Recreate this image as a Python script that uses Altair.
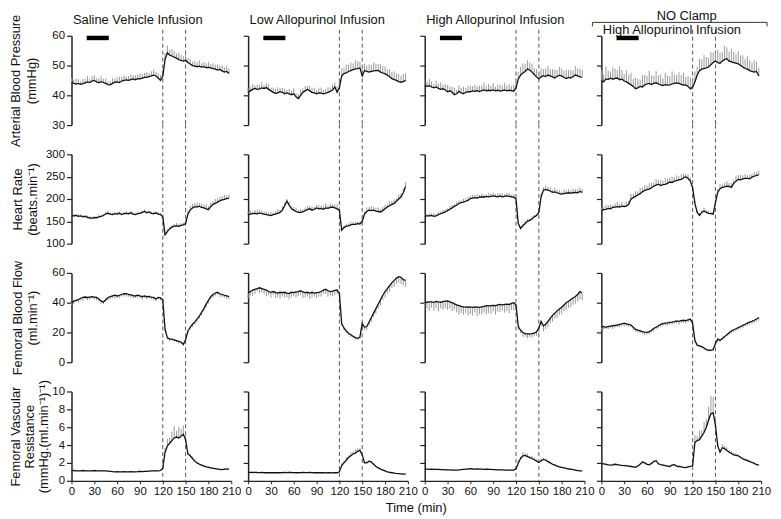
import altair as alt
import pandas as pd

FONT = "Liberation Sans"
TIME = list(range(0, 208, 3))  # sample times, min
TIME_TICKS = [0, 30, 60, 90, 120, 150, 180, 210]
CLAMP_TIMES = [120, 150]
BAR_START = [20]
BAR_END = [49]
GROUP_TITLES = ["Saline Vehicle Infusion", "Low Allopurinol Infusion",
                "High Allopurinol Infusion", "High Allopurinol Infusion"]
SUPER_TITLE = "NO Clamp"
X_TITLE = "Time (min)"

# ---------------- Arterial blood pressure (mmHg) ----------------
ABP_SALINE = [44.3,44.0,43.8,44.0,43.7,43.9,44.2,44.5,44.3,44.8,
              45.0,44.5,44.2,44.6,44.3,44.0,43.6,43.5,44.0,44.4,
              44.5,44.3,44.8,45.0,45.2,45.0,45.3,45.5,45.2,45.6,
              45.5,45.8,46.0,46.0,46.3,46.5,46.8,46.5,45.8,45.0,
              46.5,52.0,54.3,53.5,53.2,52.8,52.5,52.0,51.7,51.5,
              51.8,51.0,50.5,50.0,49.8,49.6,49.8,49.5,49.6,49.3,
              49.4,49.2,49.0,48.8,48.5,48.7,48.2,47.8,48.0,47.3]
ABP_SALINE_ERR = [1.5,1.2,1.8,1.4,1.0,1.6,1.3,1.9,1.2,1.5,
                  1.7,1.1,1.5,1.8,1.3,1.6,1.0,1.4,1.7,1.2,
                  1.5,1.9,1.3,1.6,1.1,1.5,1.8,1.2,1.6,1.4,
                  1.9,1.3,1.5,1.7,1.2,1.6,1.9,1.4,1.5,1.8,
                  2.0,2.2,2.5,1.8,2.3,2.0,1.6,2.2,1.9,1.7,
                  2.1,1.6,1.8,1.3,1.7,1.5,1.9,1.2,1.6,1.4,
                  1.8,1.3,1.7,1.5,1.9,1.2,1.8,1.6,2.0,1.7]
ABP_LOW = [41.0,41.5,42.0,42.3,42.0,42.2,42.5,42.3,42.6,42.0,
           41.5,41.0,40.7,40.8,41.2,41.0,40.5,40.8,40.5,40.2,
           40.5,39.5,38.9,40.0,41.0,41.5,42.0,41.5,41.0,40.8,
           40.5,40.8,40.7,40.5,40.7,41.0,41.3,41.8,42.8,41.0,
           42.5,46.5,47.3,47.5,48.0,48.3,48.6,48.9,49.0,49.2,
           46.5,48.3,48.0,47.8,48.0,48.2,48.3,48.4,47.8,47.5,
           47.2,46.8,46.2,45.6,45.3,45.0,44.6,44.4,44.6,45.0]
ABP_LOW_ERR = [1.5,1.2,1.8,1.0,1.6,1.3,2.0,1.2,1.5,1.8,
               1.1,1.6,1.4,1.9,1.2,1.5,1.7,1.0,1.6,1.3,
               1.8,1.2,1.5,1.9,1.3,1.6,1.1,1.7,1.4,1.8,
               1.2,1.6,1.9,1.3,1.5,1.7,1.2,1.8,1.5,2.0,
               2.2,2.5,2.0,2.8,2.3,2.6,2.1,2.9,2.4,2.2,
               2.7,2.3,2.0,2.6,2.2,2.8,2.4,2.1,2.7,2.3,
               2.5,2.0,2.6,2.2,2.8,2.3,2.5,2.1,2.6,2.4]
ABP_HIGH = [43.3,43.0,43.2,42.8,42.5,42.8,42.3,42.0,42.2,41.8,
            41.2,41.5,41.0,40.2,40.5,41.3,40.8,40.5,41.0,41.2,
            41.2,41.5,41.3,41.6,41.2,41.6,41.8,41.5,41.7,41.6,
            41.8,41.5,41.7,41.4,41.6,41.8,41.5,41.7,41.6,41.4,
            42.5,45.5,46.8,47.5,48.0,48.8,48.5,47.8,47.0,46.2,
            45.5,46.2,46.6,46.3,46.8,46.5,46.2,45.8,46.4,46.7,
            46.5,46.0,45.6,46.0,45.8,46.3,46.8,46.5,46.2,46.1]
ABP_HIGH_ERR = [2.0,1.5,2.3,1.8,1.2,2.1,1.6,2.4,1.4,1.9,
                2.2,1.5,1.8,2.3,1.3,2.0,1.7,2.4,1.5,1.9,
                2.1,1.6,2.3,1.4,2.0,1.8,2.5,1.5,2.1,1.7,
                2.3,1.4,1.9,2.2,1.6,2.4,1.8,2.0,1.5,2.2,
                2.0,2.4,2.8,3.2,2.6,3.0,2.5,2.8,2.2,2.6,
                2.4,2.9,2.2,2.7,3.0,2.3,2.6,2.9,2.1,2.8,
                2.5,2.2,2.9,2.4,2.7,2.1,3.0,2.5,2.8,2.4]
ABP_NOCLAMP = [45.0,44.5,45.5,45.3,45.8,45.4,45.7,45.8,45.2,45.5,
               44.8,44.5,44.0,43.5,43.0,42.2,42.5,43.0,42.8,43.5,
               43.8,44.0,43.6,44.0,44.2,43.8,43.5,43.3,43.6,43.4,
               43.5,43.8,44.0,44.2,44.0,43.7,43.4,43.5,43.0,42.2,
               42.8,44.5,46.8,48.3,48.8,49.0,49.2,49.5,50.3,51.0,
               51.5,51.0,50.8,51.5,52.0,52.3,51.5,51.2,51.0,50.8,
               50.6,50.0,49.5,49.0,48.8,48.3,48.0,47.8,48.0,46.5]
ABP_NOCLAMP_ERR = [3.5,2.5,4.2,3.0,2.2,4.0,3.2,2.6,4.5,3.0,
                   2.4,3.8,2.8,4.1,2.5,3.6,3.0,2.3,4.0,3.3,
                   2.7,4.2,3.1,2.5,3.9,2.9,3.5,2.4,4.0,3.2,
                   2.8,4.3,3.0,2.6,3.7,3.1,4.1,2.7,3.4,3.8,
                   3.0,3.5,2.8,4.0,3.2,4.5,3.6,3.0,4.2,3.4,
                   2.9,4.3,3.5,3.0,4.6,3.8,3.2,4.4,3.6,3.0,
                   4.2,3.4,3.9,3.1,4.5,3.5,3.0,4.0,3.3,2.8]

# ---------------- Heart rate (beats/min) ----------------
HR_SALINE = [163,162,163,161,162,160,161,159,157,157,
             158,158,160,161,163,167,168,166,165,167,
             166,168,165,167,168,167,169,166,165,167,
             168,170,172,169,171,168,167,169,166,165,
             160,120,127,133,137,139,140,139,141,142,
             145,166,175,180,183,182,184,181,180,178,
             176,183,188,190,193,196,198,199,201,202]
HR_SALINE_ERR = [3,4,3,5,3,4,3,4,5,3,
                 4,3,5,4,3,4,5,3,4,3,
                 5,4,3,4,5,3,4,4,3,5,
                 4,3,5,4,3,4,5,3,4,4,
                 5,4,6,5,4,5,6,4,5,5,
                 7,8,10,9,8,10,7,9,8,10,
                 8,9,7,10,8,9,8,10,7,8]
HR_LOW = [165,166,167,168,167,169,167,166,165,164,
          163,165,166,168,170,175,185,195,186,178,
          175,172,170,170,171,174,176,178,175,177,
          180,178,179,177,180,179,181,182,180,178,
          175,130,136,139,140,142,143,143,145,144,
          150,166,172,175,174,175,173,172,171,174,
          178,182,185,188,190,195,200,205,214,228]
HR_LOW_ERR = [6,8,5,7,9,6,8,5,7,6,
              8,5,7,9,6,8,7,5,8,6,
              7,9,5,8,6,7,9,6,8,5,
              7,9,6,8,10,7,9,6,8,10,
              8,5,4,6,5,7,5,6,4,6,
              8,6,9,7,10,8,7,9,6,8,
              9,7,10,8,9,7,10,8,9,10]
HR_HIGH = [161,162,162,163,161,162,165,167,169,171,
           174,177,180,184,186,190,192,193,195,197,
           201,202,203,202,204,205,204,206,205,206,
           207,206,205,207,205,206,207,206,205,204,
           200,145,134,140,145,150,152,155,160,163,
           170,205,220,221,220,218,215,216,214,212,
           211,212,213,214,213,214,215,214,217,215]
HR_HIGH_ERR = [5,4,6,5,7,4,6,5,7,6,
               5,7,6,4,8,6,5,7,6,8,
               5,7,6,8,5,7,6,4,8,6,
               7,5,8,6,7,5,6,8,5,7,
               6,4,5,4,6,5,4,6,5,4,
               5,8,6,9,7,8,6,9,7,8,
               6,9,7,8,6,9,7,8,9,7]
HR_NOCLAMP = [173,176,177,179,178,181,182,183,182,184,
              183,184,188,200,203,206,209,212,216,219,
              221,222,225,229,231,233,230,232,233,235,
              238,237,240,241,243,244,247,250,246,240,
              225,190,170,163,170,173,170,168,167,166,
              192,215,223,226,227,229,228,226,235,240,
              244,243,245,246,246,245,249,251,253,254]
HR_NOCLAMP_ERR = [8,6,10,7,9,5,8,11,7,9,
                  6,10,8,12,9,11,8,13,10,12,
                  9,14,11,8,13,10,12,9,14,11,
                  10,13,9,12,8,11,10,7,9,8,
                  6,5,4,6,5,7,5,6,5,4,
                  6,8,10,7,9,11,8,10,7,12,
                  9,11,8,10,7,9,8,10,7,9]

# ---------------- Femoral blood flow (ml/min) ----------------
FBF_SALINE = [40.0,41.0,41.5,42.0,43.0,43.5,43.8,43.5,43.8,44.0,
              43.8,43.5,42.5,41.0,40.5,42.0,43.5,44.0,44.5,45.0,
              44.5,45.0,45.5,46.0,46.0,45.5,45.2,44.8,44.5,45.0,
              44.5,44.0,44.5,44.0,44.2,43.8,43.5,42.5,43.5,43.2,
              42.0,22.0,16.5,15.5,15.5,15.0,14.5,14.0,13.5,12.0,
              15.0,21.0,23.5,25.5,27.0,29.0,31.0,33.5,36.0,39.0,
              41.5,44.0,45.5,46.5,47.0,46.0,45.5,45.0,44.5,44.0]
FBF_SALINE_ERR = [1.5,2.0,1.2,1.8,1.5,2.2,1.3,1.7,1.9,1.4,
                  1.6,2.0,1.3,1.8,1.5,1.2,1.9,1.6,1.4,2.1,
                  1.5,1.8,1.3,1.7,2.0,1.4,1.6,1.9,1.2,1.7,
                  1.5,2.0,1.4,1.8,1.3,1.6,1.9,1.5,1.2,1.7,
                  1.8,1.5,1.2,1.4,1.0,1.3,1.1,1.4,1.2,1.0,
                  1.5,1.8,1.6,2.0,1.7,2.2,1.9,2.1,1.8,2.3,
                  2.0,1.7,2.2,1.9,1.6,2.0,1.8,1.5,1.9,1.7]
FBF_LOW = [46.5,47.5,48.5,49.0,49.5,50.0,49.5,49.0,48.5,47.5,
           47.0,47.5,47.0,46.5,47.0,46.8,47.0,46.5,46.2,47.0,
           46.8,47.2,47.5,48.0,47.2,46.8,47.0,46.5,47.0,46.5,
           46.8,47.0,47.5,48.5,49.0,48.0,47.5,47.8,48.2,48.5,
           46.0,26.0,23.0,21.0,19.5,18.5,17.5,16.5,16.0,17.0,
           26.0,23.5,24.0,27.0,30.0,33.0,36.0,39.0,42.0,45.0,
           47.5,49.5,51.5,53.5,55.0,56.5,57.5,57.0,55.5,55.0]
FBF_LOW_ERR = [3.5,2.5,4.0,3.0,2.0,3.8,2.8,3.2,4.2,2.5,
               3.6,2.2,3.9,3.0,4.3,2.6,3.4,2.9,4.0,3.1,
               2.4,3.7,3.0,2.6,4.1,3.2,2.8,3.9,3.3,2.5,
               3.8,2.9,3.5,2.4,3.1,4.0,2.7,3.4,3.0,2.6,
               1.5,1.2,1.5,1.0,1.3,1.6,1.2,1.4,1.0,1.5,
               2.0,1.8,2.5,2.2,3.0,2.6,3.5,3.0,3.8,3.2,
               4.0,3.4,4.2,3.6,4.5,3.8,4.2,4.6,3.9,4.3]
FBF_HIGH = [40.0,40.3,40.5,40.5,40.2,40.8,40.5,40.3,40.7,41.0,
            41.2,40.5,40.0,39.2,38.5,38.0,37.5,37.2,37.0,37.2,
            37.0,36.8,37.2,37.0,36.8,37.2,37.5,38.0,37.8,38.0,
            38.2,38.0,38.5,38.8,38.6,38.8,39.0,38.8,39.5,40.0,
            38.5,24.0,21.5,20.0,19.2,19.0,19.0,19.2,19.5,20.5,
            23.0,27.5,24.5,25.5,27.5,29.5,31.5,33.0,34.5,35.8,
            37.0,38.5,40.0,41.0,42.2,43.2,44.2,45.5,47.5,46.5]
FBF_HIGH_ERR = [5.0,4.2,6.0,3.8,5.5,4.5,6.2,4.0,5.2,4.8,
                6.0,4.3,5.6,3.9,5.0,6.1,4.4,5.3,4.0,5.8,
                4.6,5.5,3.8,6.0,4.5,5.2,4.1,5.7,4.8,5.4,
                4.0,5.9,4.6,5.1,3.9,5.5,4.7,6.0,4.4,5.0,
                3.0,2.5,2.0,2.8,2.2,3.0,2.4,2.6,2.1,2.8,
                3.5,3.0,3.8,3.2,4.0,3.5,4.3,3.8,4.6,4.0,
                4.8,4.2,5.0,4.5,5.2,4.6,5.0,4.7,5.3,4.8]
FBF_NOCLAMP = [23.5,24.0,23.5,24.0,24.2,24.5,24.8,25.0,25.5,25.8,
               26.2,25.8,25.5,25.0,23.5,22.0,21.5,21.0,20.5,20.2,
               20.0,20.5,21.5,22.8,23.5,24.5,25.5,26.0,26.3,26.5,
               26.8,27.0,27.3,27.8,27.5,28.0,28.2,28.0,28.5,29.0,
               26.0,14.5,11.5,11.0,10.5,9.5,8.5,8.2,8.0,8.5,
               12.5,15.5,14.8,16.0,17.2,18.5,19.8,21.0,21.8,22.5,
               23.3,24.0,24.8,25.5,26.3,27.0,27.5,28.2,29.0,30.0]
FBF_NOCLAMP_ERR = [1.5,2.0,1.2,1.8,1.4,2.2,1.6,1.3,1.9,1.5,
                   2.1,1.4,1.7,1.2,2.0,1.5,1.8,1.3,1.6,2.0,
                   1.4,1.8,1.5,2.1,1.3,1.7,1.9,1.4,1.6,2.0,
                   1.5,1.8,1.3,1.7,2.1,1.4,1.6,1.9,1.5,1.8,
                   1.2,1.0,0.8,1.0,0.7,0.9,0.8,1.0,0.7,0.9,
                   1.2,1.0,1.3,1.1,1.4,1.2,1.5,1.3,1.6,1.4,
                   1.7,1.5,1.8,1.4,1.7,1.9,1.5,1.8,1.6,2.0]

# ---------------- Femoral vascular resistance ----------------
FVR_SALINE = [1.15,1.15,1.12,1.10,1.12,1.15,1.10,1.12,1.10,1.12,
              1.15,1.12,1.10,1.12,1.10,1.10,1.08,1.05,1.02,1.00,
              1.02,1.00,1.00,1.02,1.00,1.00,1.02,1.00,1.00,1.02,
              1.05,1.02,1.05,1.05,1.08,1.10,1.10,1.12,1.10,1.15,
              1.40,3.20,3.90,4.20,4.50,4.80,4.90,4.80,5.00,5.20,
              4.60,3.00,2.80,2.50,2.20,2.00,1.85,1.75,1.65,1.55,
              1.50,1.45,1.40,1.35,1.30,1.28,1.25,1.30,1.30,1.30]
FVR_SALINE_ERR = [0.06,0.05,0.07,0.05,0.06,0.05,0.07,0.06,0.05,0.06,
                  0.05,0.07,0.06,0.05,0.06,0.07,0.05,0.06,0.05,0.06,
                  0.07,0.05,0.06,0.05,0.06,0.07,0.05,0.06,0.05,0.06,
                  0.07,0.05,0.06,0.05,0.06,0.07,0.06,0.05,0.06,0.08,
                  0.15,0.5,0.8,0.6,1.0,1.3,0.7,1.2,0.8,1.0,
                  0.6,0.3,0.25,0.2,0.2,0.15,0.15,0.12,0.12,0.1,
                  0.1,0.1,0.08,0.08,0.1,0.08,0.07,0.08,0.1,0.08]
FVR_LOW = [0.95,0.95,0.93,0.95,0.93,0.92,0.93,0.90,0.92,0.90,
           0.92,0.90,0.90,0.92,0.90,0.92,0.93,0.92,0.95,0.93,
           0.92,0.90,0.90,0.92,0.93,0.92,0.92,0.93,0.92,0.90,
           0.90,0.92,0.90,0.90,0.88,0.90,0.90,0.88,0.90,0.90,
           1.00,1.70,2.00,2.30,2.60,2.80,3.00,3.10,3.30,3.40,
           2.90,2.00,2.00,2.20,2.10,1.85,1.60,1.45,1.30,1.20,
           1.10,1.00,0.95,0.90,0.85,0.82,0.80,0.78,0.75,0.75]
FVR_LOW_ERR = [0.05,0.04,0.06,0.05,0.04,0.05,0.06,0.04,0.05,0.05,
               0.04,0.06,0.05,0.04,0.05,0.06,0.04,0.05,0.05,0.04,
               0.06,0.05,0.04,0.05,0.06,0.04,0.05,0.05,0.04,0.06,
               0.05,0.04,0.05,0.06,0.04,0.05,0.05,0.04,0.06,0.05,
               0.1,0.3,0.2,0.35,0.25,0.4,0.3,0.45,0.35,0.3,
               0.2,0.15,0.2,0.15,0.12,0.1,0.1,0.08,0.08,0.07,
               0.07,0.06,0.06,0.05,0.06,0.05,0.05,0.06,0.05,0.05]
FVR_HIGH = [1.30,1.30,1.28,1.30,1.28,1.27,1.28,1.25,1.25,1.23,
            1.22,1.22,1.20,1.20,1.20,1.22,1.25,1.28,1.30,1.32,
            1.35,1.32,1.30,1.32,1.30,1.30,1.28,1.30,1.28,1.27,
            1.25,1.25,1.23,1.22,1.22,1.20,1.20,1.20,1.20,1.20,
            1.35,2.00,2.50,2.80,2.85,2.70,2.60,2.50,2.35,2.20,
            2.05,2.25,2.40,2.30,2.15,2.00,1.85,1.75,1.65,1.55,
            1.50,1.45,1.40,1.32,1.30,1.25,1.20,1.15,1.10,1.10]
FVR_HIGH_ERR = [0.05,0.06,0.04,0.05,0.06,0.05,0.04,0.06,0.05,0.05,
                0.06,0.04,0.05,0.06,0.05,0.04,0.06,0.05,0.05,0.06,
                0.04,0.05,0.06,0.05,0.04,0.06,0.05,0.05,0.06,0.04,
                0.05,0.06,0.05,0.04,0.06,0.05,0.05,0.06,0.04,0.05,
                0.1,0.3,0.2,0.4,0.25,0.35,0.2,0.3,0.25,0.2,
                0.2,0.25,0.15,0.2,0.12,0.15,0.1,0.12,0.08,0.1,
                0.08,0.07,0.06,0.07,0.05,0.06,0.05,0.06,0.05,0.05]
FVR_NOCLAMP = [1.95,1.90,1.85,1.78,1.75,1.78,1.85,1.80,1.75,1.72,
               1.70,1.68,1.65,1.60,1.55,1.50,1.65,1.85,2.10,2.00,
               1.85,1.80,1.95,2.15,2.25,1.90,1.80,1.75,1.70,1.65,
               1.60,1.75,1.80,1.65,1.60,1.55,1.50,1.48,1.55,1.60,
               1.70,4.30,4.50,4.60,5.00,5.40,6.00,6.80,7.50,7.60,
               6.20,3.90,3.20,3.70,3.60,3.40,3.20,3.05,2.90,2.85,
               2.80,2.60,2.45,2.35,2.25,2.15,2.05,1.95,1.80,1.75]
FVR_NOCLAMP_ERR = [0.1,0.08,0.12,0.1,0.09,0.12,0.1,0.08,0.11,0.1,
                   0.09,0.12,0.1,0.08,0.11,0.1,0.12,0.09,0.15,0.12,
                   0.1,0.09,0.12,0.15,0.12,0.1,0.09,0.11,0.1,0.08,
                   0.12,0.1,0.09,0.11,0.1,0.08,0.1,0.09,0.12,0.1,
                   0.2,0.8,0.5,1.0,0.7,1.2,0.9,1.5,2.0,1.8,
                   1.0,0.5,0.35,0.4,0.3,0.35,0.25,0.3,0.2,0.25,
                   0.2,0.18,0.2,0.15,0.18,0.15,0.12,0.15,0.12,0.1]

MEANS = [
    [ABP_SALINE, ABP_LOW, ABP_HIGH, ABP_NOCLAMP],
    [HR_SALINE, HR_LOW, HR_HIGH, HR_NOCLAMP],
    [FBF_SALINE, FBF_LOW, FBF_HIGH, FBF_NOCLAMP],
    [FVR_SALINE, FVR_LOW, FVR_HIGH, FVR_NOCLAMP],
]
ERRS = [
    [ABP_SALINE_ERR, ABP_LOW_ERR, ABP_HIGH_ERR, ABP_NOCLAMP_ERR],
    [HR_SALINE_ERR, HR_LOW_ERR, HR_HIGH_ERR, HR_NOCLAMP_ERR],
    [FBF_SALINE_ERR, FBF_LOW_ERR, FBF_HIGH_ERR, FBF_NOCLAMP_ERR],
    [FVR_SALINE_ERR, FVR_LOW_ERR, FVR_HIGH_ERR, FVR_NOCLAMP_ERR],
]

ROW_SPECS = [
    {"title": ["Arterial Blood Pressure", "(mmHg)"], "domain": [30, 60],
     "ticks": [30, 40, 50, 60], "dir": 1, "tx": -49.0, "lh": 16},
    {"title": ["Heart Rate", "(beats.min\u207b\u00b9)"], "domain": [100, 300],
     "ticks": [100, 150, 200, 250, 300], "dir": 1, "tx": -47.5, "lh": 15},
    {"title": ["Femoral Blood Flow", "(ml.min\u207b\u00b9)"], "domain": [0, 60],
     "ticks": [0, 20, 40, 60], "dir": -1, "tx": -47.5, "lh": 15},
    {"title": ["Femoral Vascular", "Resistance", "(mmHg.(ml.min\u207b\u00b9)\u207b\u00b9)"],
     "domain": [0, 10], "ticks": [0, 2, 4, 6, 8, 10], "dir": 1, "tx": -49.0, "lh": 14},
]

W, H = 161, 90
INK = "#111111"


def make_panel(r, c):
    spec = ROW_SPECS[r]
    df = pd.DataFrame({"t": TIME, "v": MEANS[r][c], "e": ERRS[r][c]})
    df["tip"] = df["v"] + spec["dir"] * df["e"]

    xscale = alt.Scale(domain=[0, 210], nice=False, zero=False)
    yscale = alt.Scale(domain=spec["domain"], nice=False, zero=False)
    if r == 3:
        xaxis = alt.Axis(values=TIME_TICKS, title=None, grid=False, labelFlush=False,
                         labelOverlap=False, labelFontSize=11.5, labelFont=FONT,
                         labelColor=INK, labelPadding=1.5, tickSize=3, tickColor="#222",
                         domainColor="#222", domainWidth=1.3)
    else:
        xaxis = None

    yargs = dict(values=spec["ticks"], grid=False, labelFlush=False, labelOverlap=False,
                 labelFontSize=11.5, labelFont=FONT, labelColor=INK, labelPadding=2,
                 tickSize=5, tickColor="#222", tickWidth=1.2,
                 domainColor="#222", domainWidth=1.5, labels=(c == 0))
    if c == 0:
        yargs.update(title=spec["title"], titleFont=FONT, titleFontSize=13,
                     titleFontWeight="normal", titleColor=INK, titleX=spec["tx"],
                     titleY=H / 2, titleAngle=270, titleAlign="center",
                     titleBaseline="bottom", titleLineHeight=spec["lh"])
    else:
        yargs.update(title=None)
    yaxis = alt.Axis(**yargs)

    X = alt.X("t:Q", scale=xscale, axis=xaxis)
    top = -6 if r == 0 else -30
    rules = alt.Chart(pd.DataFrame({"t": CLAMP_TIMES})).mark_rule(
        strokeDash=[4, 3], color="#555555", strokeWidth=1
    ).encode(x=X, y=alt.value(top), y2=alt.value(H))

    base = alt.Chart(df)
    err = base.mark_rule(color="#9a9a9a", strokeWidth=1).encode(
        x=X, y=alt.Y("v:Q", scale=yscale, axis=yaxis), y2="tip:Q")
    line = base.mark_line(color=INK, strokeWidth=1.3).encode(
        x=X, y=alt.Y("v:Q", scale=yscale, axis=yaxis))
    layers = [rules, err, line]

    if r == 0:
        bar = alt.Chart(pd.DataFrame({"s": BAR_START, "e": BAR_END})).mark_rule(
            color="black", strokeWidth=4.5
        ).encode(x=alt.X("s:Q", scale=xscale, axis=xaxis), x2="e:Q", y=alt.value(2.2))
        layers.append(bar)
        ty = -5.5 if c == 3 else -16
        title = alt.Chart(pd.DataFrame({"label": [GROUP_TITLES[c]]})).mark_text(
            align="left", baseline="middle", fontSize=13, font=FONT, color=INK
        ).encode(x=alt.value(1.5), y=alt.value(ty), text="label:N")
        layers.append(title)
        if c == 3:
            sup = alt.Chart(pd.DataFrame({"label": [SUPER_TITLE]})).mark_text(
                align="center", baseline="middle", fontSize=13, font=FONT, color=INK
            ).encode(x=alt.value(86), y=alt.value(-19.5), text="label:N")
            one = pd.DataFrame({"k": [0]})
            brk = alt.Chart(one).mark_rule(color="#333", strokeWidth=1).encode(
                x=alt.value(-9), x2=alt.value(167), y=alt.value(-13.5))
            lt = alt.Chart(one).mark_rule(color="#333", strokeWidth=1).encode(
                x=alt.value(-9), y=alt.value(-13.5), y2=alt.value(-9.5))
            rt = alt.Chart(one).mark_rule(color="#333", strokeWidth=1).encode(
                x=alt.value(167), y=alt.value(-13.5), y2=alt.value(-9.5))
            layers += [sup, brk, lt, rt]
    if r == 3 and c == 1:
        xt = alt.Chart(pd.DataFrame({"label": [X_TITLE]})).mark_text(
            align="center", baseline="middle", fontSize=13, font=FONT, color=INK
        ).encode(x=alt.value(169.5), y=alt.value(117), text="label:N")
        layers.append(xt)

    return alt.layer(*layers).properties(width=W, height=H)


panels = [make_panel(r, c) for r in range(4) for c in range(4)]

chart = alt.concat(
    *panels, columns=4, spacing={"row": 29.5, "column": 17}, bounds="flush"
).properties(
    padding={"left": 2, "top": 0, "right": 2, "bottom": 0},
    background="white",
).configure_view(strokeWidth=0)

chart.save("out.html", embed_options={"renderer": "svg", "actions": False})
